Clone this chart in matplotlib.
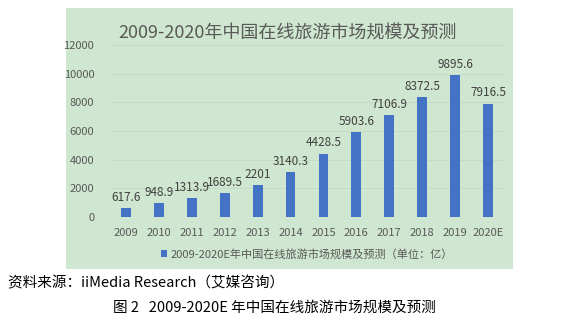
import matplotlib.pyplot as plt
from matplotlib.patches import Rectangle

plt.rcParams['font.family'] = ['Noto Sans CJK SC', 'DejaVu Sans']

years = ['2009', '2010', '2011', '2012', '2013', '2014',
         '2015', '2016', '2017', '2018', '2019', '2020E']
values = [617.6, 948.9, 1313.9, 1689.5, 2201, 3140.3,
          4428.5, 5903.6, 7106.9, 8372.5, 9895.6, 7916.5]
value_labels = ['617.6', '948.9', '1313.9', '1689.5', '2201', '3140.3',
                '4428.5', '5903.6', '7106.9', '8372.5', '9895.6', '7916.5']
y_ticks = [0, 2000, 4000, 6000, 8000, 10000, 12000]

title = '2009-2020年中国在线旅游市场规模及预测'
legend_label = '2009-2020E年中国在线旅游市场规模及预测（单位：亿）'
source = '资料来源：iiMedia Research（艾媒咨询）'
caption = '图 2   2009-2020E 年中国在线旅游市场规模及预测'

bg = '#cfe6d0'
bar_color = '#4472c4'
txt = '#595959'

fig = plt.figure(figsize=(5.82, 3.21), dpi=100)
fig.patch.set_facecolor('white')

# green chart area, kept behind the axes
fig.add_artist(Rectangle((66 / 582, 52 / 321), 447 / 582, 261 / 321,
                         transform=fig.transFigure, facecolor=bg,
                         edgecolor='none', zorder=-5))

ax = fig.add_axes([109.5 / 582, 104 / 321, 395 / 582, 172 / 321])
ax.set_facecolor('none')
ax.set_zorder(2)

x = range(len(years))
bars = ax.bar(x, values, width=0.3, color=bar_color, zorder=3,
              label=legend_label)
for xi, v, lab in zip(x, values, value_labels):
    ax.annotate(lab, (xi, v), xytext=(0, 3), textcoords='offset points',
                ha='center', va='bottom', fontsize=8.5, color='#404040')

ax.set_xlim(-0.5, len(years) - 0.5)
ax.set_ylim(0, 12000)
ax.set_yticks(y_ticks)
ax.set_yticklabels([str(t) for t in y_ticks])
ax.set_xticks(list(x))
ax.set_xticklabels(years)
ax.tick_params(axis='both', length=0, labelsize=8, colors=txt)
ax.tick_params(axis='y', pad=11)
ax.tick_params(axis='x', pad=8)
ax.grid(axis='y', color='#c2dbc3', linewidth=0.6, zorder=0)
for s in ax.spines.values():
    s.set_visible(False)

fig.text(288 / 582, 1 - 33 / 321, title, ha='center', va='center',
         fontsize=13, color=txt)

ax.legend(loc='center', bbox_to_anchor=(0.5, -0.215), frameon=False,
          fontsize=8, handlelength=0.6, handleheight=0.6, handletextpad=0.3,
          labelcolor=txt)

fig.text(8 / 582, 1 - 283 / 321, source, ha='left', va='center',
         fontsize=10.5, color='black')
fig.text(274 / 582, 1 - 308 / 321, caption, ha='center', va='center',
         fontsize=10.5, color='black')

fig.savefig('out.png', dpi=100)
